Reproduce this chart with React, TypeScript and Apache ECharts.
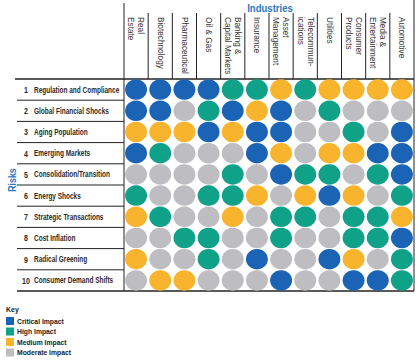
import React, { useEffect, useRef } from "react";
import * as echarts from "echarts";

const industries = [
  "Real\nEstate",
  "Biotechnology",
  "Pharmaceutical",
  "Oil & Gas",
  "Banking &\nCapital Markets",
  "Insurance",
  "Asset\nManagement",
  "Telecommun-\nications",
  "Utilities",
  "Consumer\nProducts",
  "Media &\nEntertainment",
  "Automotive",
];

const risks = [
  "Regulation and Compliance",
  "Global Financial Shocks",
  "Aging Population",
  "Emerging Markets",
  "Consolidation/Transition",
  "Energy Shocks",
  "Strategic Transactions",
  "Cost Inflation",
  "Radical Greening",
  "Consumer Demand Shifts",
];

// 1 = Critical, 2 = High, 3 = Medium, 4 = Moderate
const regulationAndCompliance = [1, 1, 1, 1, 2, 2, 3, 2, 3, 3, 3, 3];
const globalFinancialShocks = [1, 1, 4, 2, 1, 3, 1, 4, 2, 4, 4, 4];
const agingPopulation = [3, 3, 3, 1, 3, 1, 1, 4, 4, 2, 4, 1];
const emergingMarkets = [1, 2, 4, 4, 4, 1, 3, 4, 3, 3, 1, 1];
const consolidationTransition = [4, 4, 4, 4, 2, 4, 1, 2, 2, 4, 2, 1];
const energyShocks = [2, 4, 4, 2, 2, 3, 4, 3, 1, 3, 4, 2];
const strategicTransactions = [3, 2, 4, 4, 3, 4, 2, 2, 4, 2, 2, 3];
const costInflation = [4, 4, 2, 2, 4, 4, 2, 4, 4, 2, 2, 1];
const radicalGreening = [3, 4, 4, 2, 4, 1, 4, 4, 1, 3, 4, 2];
const consumerDemandShifts = [4, 3, 3, 4, 4, 4, 1, 4, 4, 1, 1, 2];

const impactRows = [
  regulationAndCompliance,
  globalFinancialShocks,
  agingPopulation,
  emergingMarkets,
  consolidationTransition,
  energyShocks,
  strategicTransactions,
  costInflation,
  radicalGreening,
  consumerDemandShifts,
];

const levelNames = ["Critical Impact", "High Impact", "Medium Impact", "Moderate Impact"];
const levelColors = ["#1b63b4", "#10a189", "#f8b42c", "#bebec2"];

const FONT = "'Liberation Sans', Arial, sans-serif";
const TITLE_BLUE = "#2a78c2";

const GRID = { left: 124, top: 79, width: 290, height: 212 };

export default function App() {
  const ref = useRef<HTMLDivElement>(null);

  useEffect(() => {
    if (!ref.current) return;
    const chart = echarts.init(ref.current, undefined, { renderer: "svg" });

    const series = levelNames.map((name, li) => {
      const data: number[][] = [];
      impactRows.forEach((row, ri) => {
        row.forEach((lvl, ci) => {
          if (lvl === li + 1) data.push([ci, ri]);
        });
      });
      return {
        name,
        type: "scatter",
        data,
        symbol: "circle",
        symbolSize: [22, 20.5],
        itemStyle: { color: levelColors[li], opacity: 1 },
        emphasis: { disabled: true },
      };
    });

    chart.setOption({
      animation: false,
      grid: { ...GRID },
      xAxis: {
        type: "category",
        data: industries,
        position: "top",
        axisLine: { show: false },
        axisTick: { show: false },
        axisLabel: { show: false },
        splitLine: { show: false },
      },
      yAxis: {
        type: "category",
        data: risks,
        inverse: true,
        axisLine: { show: false },
        axisTick: { show: false },
        splitLine: { show: false },
        axisLabel: { show: false },
      },
      legend: {
        orient: "vertical",
        left: 6,
        top: 317,
        padding: 0,
        itemWidth: 8,
        itemHeight: 8,
        itemGap: 2.5,
        icon: "rect",
        selectedMode: false,
        data: levelNames,
        textStyle: { fontSize: 6.8, fontFamily: FONT, color: "#222", fontWeight: "bold", padding: [0, 0, 0, -2] },
      },
      series,
    });

    const colW = GRID.width / industries.length;
    const rowH = GRID.height / risks.length;
    const right = GRID.left + GRID.width;
    const bottom = GRID.top + GRID.height;
    const lineStyle = { stroke: "#222", lineWidth: 1 };

    const graphics: any[] = [];
    // column headers
    industries.forEach((name, i) => {
      const px = chart.convertToPixel({ xAxisIndex: 0 }, i) as number;
      graphics.push({
        type: "text",
        x: px + 0.5,
        y: 17,
        rotation: -Math.PI / 2,
        scaleX: 0.87,
        style: {
          text: name,
          fontSize: 9.5,
          lineHeight: 10,
          fontFamily: FONT,
          fill: "#333333",
          align: "left",
          verticalAlign: "middle",
        },
      });
    });
    // row labels
    risks.forEach((name, i) => {
      const py = chart.convertToPixel({ yAxisIndex: 0 }, i) as number;
      graphics.push({
        type: "text",
        x: 26,
        y: py,
        scaleX: 0.75,
        style: { text: String(i + 1), fontSize: 9.4, fontWeight: "bold", fontFamily: FONT, fill: "#2b2b2b", align: "center", verticalAlign: "middle" },
      });
      graphics.push({
        type: "text",
        x: 34,
        y: py,
        scaleX: 0.69,
        style: { text: name, fontSize: 9.4, fontWeight: "bold", fontFamily: FONT, fill: "#2b2b2b", align: "left", verticalAlign: "middle" },
      });
    });
    // column separators
    for (let i = 1; i < industries.length; i++) {
      const x = GRID.left + i * colW;
      graphics.push({ type: "line", shape: { x1: x, y1: 13, x2: x, y2: GRID.top }, style: lineStyle });
    }
    // row separators (label area)
    for (let i = 1; i < risks.length; i++) {
      const y = GRID.top + i * rowH;
      graphics.push({ type: "line", shape: { x1: 17, y1: y, x2: GRID.left, y2: y }, style: lineStyle });
    }
    // frame lines
    graphics.push({ type: "line", shape: { x1: 15, y1: GRID.top, x2: right, y2: GRID.top }, style: { stroke: "#222", lineWidth: 1.6 } });
    graphics.push({ type: "line", shape: { x1: 17, y1: bottom, x2: right, y2: bottom }, style: { stroke: "#222", lineWidth: 1.3 } });
    graphics.push({ type: "line", shape: { x1: GRID.left, y1: 3, x2: GRID.left, y2: bottom }, style: lineStyle });
    graphics.push({ type: "line", shape: { x1: right, y1: 0, x2: right, y2: bottom }, style: lineStyle });
    // titles
    graphics.push({
      type: "text",
      x: 270,
      y: 8,
      scaleX: 0.87,
      style: { text: "Industries", fontSize: 11, fontWeight: "bold", fontFamily: FONT, fill: TITLE_BLUE, align: "center", verticalAlign: "middle" },
    });
    graphics.push({
      type: "text",
      x: 12,
      y: 180,
      rotation: Math.PI / 2,
      scaleX: 0.8,
      style: { text: "Risks", fontSize: 11, fontWeight: "bold", fontFamily: FONT, fill: TITLE_BLUE, align: "center", verticalAlign: "middle" },
    });
    graphics.push({
      type: "text",
      x: 6,
      y: 309,
      style: { text: "Key", fontSize: 7, fontWeight: "bold", fontFamily: FONT, fill: "#222", align: "left", verticalAlign: "middle" },
    });

    chart.setOption({ graphic: graphics });

    return () => chart.dispose();
  }, []);

  return <div ref={ref} style={{ position: "fixed", left: 0, top: 0, width: 420, height: 363, background: "#fff" }} />;
}
